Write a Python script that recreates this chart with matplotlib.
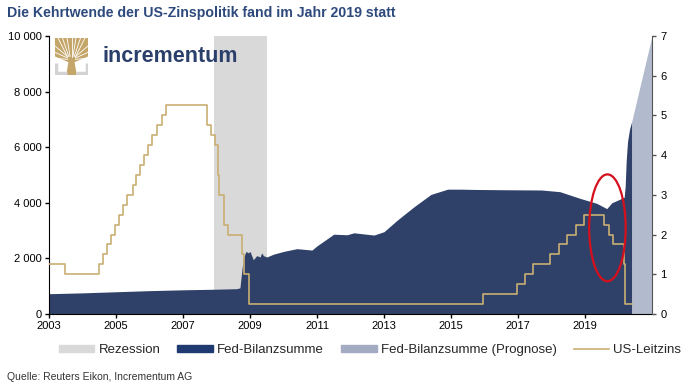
import matplotlib
matplotlib.use("Agg")
import matplotlib.pyplot as plt
from matplotlib.patches import Patch, Ellipse, Polygon, Rectangle
from matplotlib.lines import Line2D
from matplotlib.ticker import FuncFormatter

plt.rcParams['font.family'] = ['Liberation Sans', 'DejaVu Sans']

# Fed balance sheet (bn USD)
bs_years = [2003.0, 2004.0, 2005.0, 2006.0, 2007.0, 2007.9, 2008.6, 2008.7,
            2008.75, 2008.8, 2008.88, 2008.95, 2009.0, 2009.1, 2009.2, 2009.3,
            2009.35, 2009.4, 2009.5, 2009.7, 2010.0, 2010.4, 2010.85, 2011.0,
            2011.5, 2011.9, 2012.1, 2012.7, 2013.0, 2013.4, 2013.9, 2014.4,
            2014.9, 2015.3, 2015.7, 2016.5, 2017.7, 2018.25, 2018.85, 2019.35,
            2019.65, 2019.8, 2020.1, 2020.17, 2020.2, 2020.23, 2020.27, 2020.33,
            2020.4]
bs_values = [730, 760, 800, 840, 870, 890, 910, 940,
             1500, 2000, 2250, 2200, 2250, 1950, 2100, 2050,
             2200, 2100, 2050, 2150, 2250, 2350, 2300, 2450,
             2870, 2850, 2920, 2840, 2960, 3380, 3860, 4300,
             4490, 4490, 4480, 4470, 4460, 4400, 4160, 3980,
             3790, 4000, 4160, 4200, 4600, 5500, 6200, 6650,
             6950]

# forecast
fc_years = [2020.4, 2021.0]
fc_values = [6950, 10000]

# US policy rate (upper bound, %)
rate_years = [2003.0, 2003.49, 2004.49, 2004.61, 2004.72, 2004.86, 2004.96,
              2005.09, 2005.22, 2005.34, 2005.5, 2005.61, 2005.72, 2005.84,
              2005.95, 2006.08, 2006.22, 2006.36, 2006.49, 2007.71, 2007.83,
              2007.95, 2008.06, 2008.08, 2008.21, 2008.33, 2008.77, 2008.83,
              2008.96, 2015.96, 2016.96, 2017.21, 2017.45, 2017.95, 2018.21,
              2018.45, 2018.73, 2018.97, 2019.58, 2019.71, 2019.83, 2020.17,
              2020.2, 2020.4]
rate_values = [1.25, 1.0, 1.25, 1.5, 1.75, 2.0, 2.25,
               2.5, 2.75, 3.0, 3.25, 3.5, 3.75, 4.0,
               4.25, 4.5, 4.75, 5.0, 5.25, 4.75, 4.5,
               4.25, 3.5, 3.0, 2.25, 2.0, 1.5, 1.0,
               0.25, 0.5, 0.75, 1.0, 1.25, 1.5, 1.75,
               2.0, 2.25, 2.5, 2.25, 2.0, 1.75, 1.25,
               0.25, 0.25]

recession = (2007.92, 2009.5)
year_ticks = list(range(2003, 2021, 2))

navy = '#2F4169'
gold = '#C9AF72'

fig = plt.figure(figsize=(6.84, 3.84), dpi=100)
ax = fig.add_axes([0.0716, 0.1823, 0.8816, 0.7240])
ax.set_xlim(2003, 2021)
ax.set_ylim(0, 10000)

ax.axvspan(*recession, color='#D9D9D9', lw=0, zorder=0)
ax.fill_between(bs_years, bs_values, color=navy, lw=0, zorder=1)
ax.fill_between(fc_years, fc_values, color='#B2BACD', lw=0, zorder=1)

ax.set_xticks(year_ticks)
ax.set_yticks(range(0, 10001, 2000))
ax.yaxis.set_major_formatter(FuncFormatter(lambda v, p: f"{int(v):,}".replace(",", " ")))
ax.tick_params(labelsize=8, length=3, width=1, color='black', pad=2)
ax.spines['top'].set_visible(False)
ax.spines['right'].set_visible(False)

ax2 = ax.twinx()
ax2.set_ylim(0, 7)
ax2.step(rate_years, rate_values, where='post', color=gold, lw=1.2, zorder=3)
ax2.set_yticks(range(0, 8))
ax2.tick_params(labelsize=8, length=3, width=1, color='#555555', pad=3)
ax2.spines['top'].set_visible(False)
ax2.spines['left'].set_visible(False)
ax2.spines['bottom'].set_visible(False)
ax2.spines['right'].set_color('#555555')

ax2.add_patch(Ellipse((2019.67, 2.17), 1.09, 2.69, fill=False,
                      edgecolor='#D5101C', lw=1.6, zorder=4))

# title and source
fig.text(0.010, 0.965, "Die Kehrtwende der US-Zinspolitik fand im Jahr 2019 statt",
         fontsize=10.2, fontweight='bold', color='#2E4A7D', va='center')
fig.text(0.010, 0.018, "Quelle: Reuters Eikon, Incrementum AG",
         fontsize=7.5, color='#333333', va='center')

# logo: tree
logo_gold = '#C4A66A'
lg = fig.add_axes([55 / 684, 1 - 75 / 384, 33 / 684, 37 / 384])
lg.set_xlim(0, 1)
lg.set_ylim(0, 1)
lg.axis('off')
grey = '#D3D3D3'
lg.plot([0.03, 0.03, 0.36], [0.32, 0.06, 0.06], color=grey, lw=2.5, solid_capstyle='butt')
lg.plot([0.64, 0.97, 0.97], [0.06, 0.06, 0.32], color=grey, lw=2.5, solid_capstyle='butt')
lg.add_patch(Rectangle((0.0, 0.35), 1.0, 0.65, color=logo_gold, lw=0))
lg.add_patch(Polygon([[0.34, 0.0], [0.66, 0.0], [0.58, 0.42], [0.42, 0.42]],
                     color=logo_gold, lw=0))
for tx in [0.08, 0.22, 0.36, 0.5, 0.64, 0.78, 0.92]:
    lg.plot([0.5 + (tx - 0.5) * 0.3, tx], [0.5, 1.02], color='white', lw=0.6)
for ty in [0.45, 0.62, 0.8]:
    lg.plot([0.38, -0.02], [0.42 + (ty - 0.42) * 0.2, ty], color='white', lw=0.6)
    lg.plot([0.62, 1.02], [0.42 + (ty - 0.42) * 0.2, ty], color='white', lw=0.6)
lg.add_patch(Polygon([[0.0, 0.35], [0.4, 0.35], [0.0, 0.5]], color='white', lw=0))
lg.add_patch(Polygon([[1.0, 0.35], [0.6, 0.35], [1.0, 0.5]], color='white', lw=0))
fig.text(102 / 684, 1 - 56 / 384, "incrementum", fontsize=15.5, fontweight='bold',
         color='#2B3F6B', va='center')

handles = [Patch(color='#D9D9D9'), Patch(color='#1F3A70'),
           Patch(color='#A3ABC2'), Line2D([], [], color=gold, lw=1.2)]
labels = ["Rezession", "Fed-Bilanzsumme", "Fed-Bilanzsumme (Prognose)", "US-Leitzins"]
leg = fig.legend(handles, labels, loc='center', bbox_to_anchor=(0.541, 0.088),
                 ncol=4, frameon=False, fontsize=9.5, handlelength=2.7,
                 handleheight=0.5, handletextpad=0.3, columnspacing=1.3)
for t in leg.get_texts():
    t.set_color('#262626')

fig.savefig("out.png", dpi=100)
